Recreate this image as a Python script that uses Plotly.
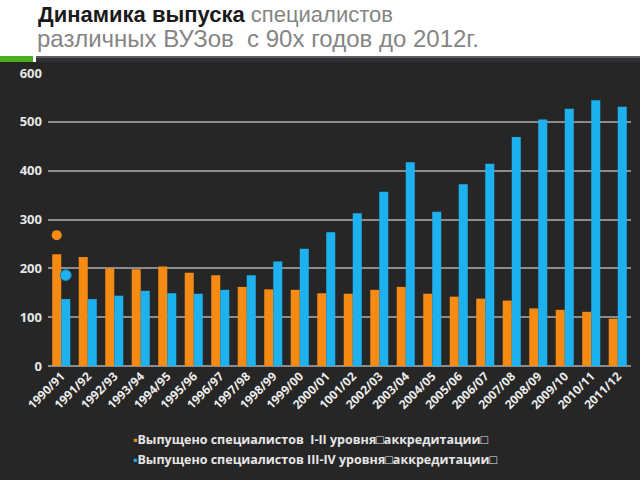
import plotly.graph_objects as go

categories = ["1990/91", "1991/92", "1992/93", "1993/94", "1994/95", "1995/96",
              "1996/97", "1997/98", "1998/99", "1999/00", "2000/01", "1001/02",
              "2002/03", "2003/04", "2004/05", "2005/06", "2006/07", "2007/08",
              "2008/09", "2009/10", "2010/11", "2011/12"]
level_1_2 = [229, 223, 200, 198, 204, 191, 186, 162, 157, 156, 149, 148,
             156, 162, 148, 142, 138, 134, 118, 115, 111, 97]
level_3_4 = [137, 137, 144, 154, 149, 148, 156, 186, 214, 240, 274, 313,
             357, 417, 316, 372, 414, 469, 505, 527, 544, 531]
marker_cat = ["1990/91"]
marker_orange = [268]
marker_blue = [186]
y_ticks = [0, 100, 200, 300, 400, 500, 600]

name1 = "Выпущено специалистов  I-II уровня\u25a1аккредитации\u25a1"
name2 = "Выпущено специалистов III-IV уровня\u25a1аккредитации\u25a1"

ORANGE = "#F68A12"
BLUE = "#1DB2EF"
BG = "#262626"

fig = go.Figure()
fig.add_trace(go.Bar(x=categories, y=level_1_2, name=name1, marker_color=ORANGE,
                     marker_line_width=0, offsetgroup="a", showlegend=False))
fig.add_trace(go.Bar(x=categories, y=level_3_4, name=name2, marker_color=BLUE,
                     marker_line_width=0, offsetgroup="b", showlegend=False))
fig.add_trace(go.Scatter(x=marker_cat, y=marker_orange, mode="markers", offsetgroup="a",
                         marker=dict(color=ORANGE, size=10), showlegend=False))
fig.add_trace(go.Scatter(x=marker_cat, y=marker_blue, mode="markers", offsetgroup="b",
                         marker=dict(color=BLUE, size=11, line=dict(color="#1580B0", width=1)),
                         showlegend=False))

# plot area: left 48, right 631, top 73, bottom 366
L, R, T, B = 48, 9, 73, 114
W = 640 - L - R
H = 480 - T - B

def px(x):
    return (x - L) / W

def py(y):
    return (480 - B - y) / H

shapes = [
    dict(type="rect", xref="paper", yref="paper", x0=px(0), x1=px(640), y0=py(480), y1=py(62),
         fillcolor=BG, line_width=0, layer="below"),
    dict(type="rect", xref="paper", yref="paper", x0=px(0), x1=px(33), y0=py(62), y1=py(56),
         fillcolor="#4CAF1E", line_width=0, layer="below"),
    dict(type="rect", xref="paper", yref="paper", x0=px(36), x1=px(640), y0=py(62), y1=py(56),
         fillcolor="#2E3035", line_width=0, layer="below"),
    dict(type="line", xref="paper", yref="paper", x0=px(36), x1=px(640), y0=py(57), y1=py(57),
         line=dict(color="#8A8C90", width=1), layer="below"),
]

legend_font = dict(family="Open Sans", size=12.5, color="#E6E6E6", weight="bold")

fig.update_layout(
    width=640, height=480,
    margin=dict(l=L, r=R, t=T, b=B, autoexpand=False),
    paper_bgcolor="white",
    plot_bgcolor=BG,
    barmode="group",
    bargap=0.32,
    bargroupgap=0,
    scattermode="group",
    scattergap=0.32,
    shapes=shapes,
    font=dict(family="Open Sans", color="#E6E6E6"),
    showlegend=False,
    annotations=[
        dict(xref="paper", yref="paper", x=px(36), y=py(29), xanchor="left", yanchor="bottom",
             showarrow=False, align="left",
             text="<b>Динамика выпуска</b> <span style='color:#858585'>специалистов</span>",
             font=dict(family="Liberation Sans", size=22, color="#1A1A1A")),
        dict(xref="paper", yref="paper", x=px(35), y=py(54), xanchor="left", yanchor="bottom",
             showarrow=False, align="left",
             text="различных ВУЗов  с 90х годов до 2012г.",
             font=dict(family="Liberation Sans", size=24, color="#858585")),
        dict(xref="paper", yref="paper", x=px(131), y=py(439), xanchor="left", yanchor="middle",
             showarrow=False, align="left",
             text=f"<span style='color:{ORANGE}'>\u25aa</span>{name1}", font=legend_font),
        dict(xref="paper", yref="paper", x=px(131), y=py(459), xanchor="left", yanchor="middle",
             showarrow=False, align="left",
             text=f"<span style='color:{BLUE}'>\u25aa</span>{name2}", font=legend_font),
    ],
)
fig.update_xaxes(type="category", tickangle=-45, showgrid=False, showline=False, ticks="",
                 tickfont=dict(size=12, color="#EDEDED", family="Open Sans", weight="bold"))
fig.update_yaxes(range=[0, 600], tickvals=y_ticks, showgrid=True, gridcolor="#8C8C8C",
                 gridwidth=1.5, zeroline=True, zerolinecolor="#8C8C8C", zerolinewidth=1.5,
                 ticks="", ticklabelstandoff=5,
                 tickfont=dict(size=13, color="#E6E6E6", family="Open Sans", weight="bold"))

fig.write_html("out.html")
